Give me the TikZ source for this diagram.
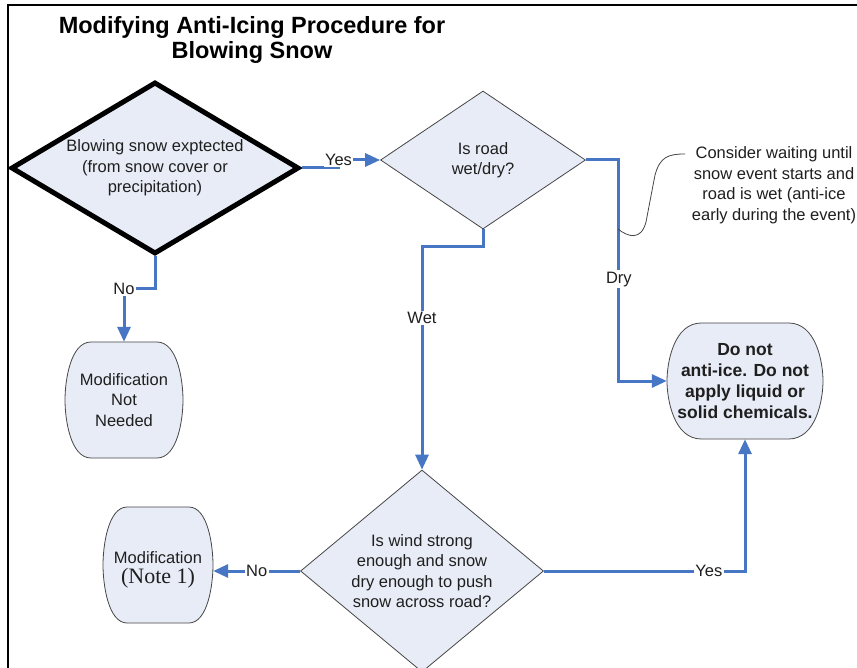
\documentclass[tikz,border=0pt]{standalone}
\usepackage{fontspec}
\setmainfont{Liberation Sans}
\newfontfamily\notefont{Liberation Serif}
\usetikzlibrary{shapes.geometric,arrows.meta,calc}
\definecolor{flowblue}{RGB}{70,118,196}
\definecolor{boxfill}{RGB}{232,236,246}
\definecolor{edgegray}{RGB}{70,70,70}
\newcommand\barrelbox[7][]{% opts, name, cx, cy, w, h, text
  \pgfmathsetmacro\bL{#3-#5/2}\pgfmathsetmacro\bR{#3+#5/2}%
  \pgfmathsetmacro\bT{#4-#6/2}\pgfmathsetmacro\bB{#4+#6/2}%
  \pgfmathsetmacro\bA{0.22*#5}\pgfmathsetmacro\bC{0.2*\bA}\pgfmathsetmacro\bV{0.34*#6}%
  \draw[boxline] (\bL+\bA,\bT) -- (\bR-\bA,\bT)
    .. controls (\bR-\bC,\bT) and (\bR,\bT+\bV) .. (\bR,#4)
    .. controls (\bR,\bB-\bV) and (\bR-\bC,\bB) .. (\bR-\bA,\bB)
    -- (\bL+\bA,\bB)
    .. controls (\bL+\bC,\bB) and (\bL,\bB-\bV) .. (\bL,#4)
    .. controls (\bL,\bT+\bV) and (\bL+\bC,\bT) .. cycle;
  \node[holder,minimum width=#5pt,minimum height=#6pt,#1] (#2) at (#3,#4) {#7};}
\begin{document}
\begin{tikzpicture}[x=1pt,y=-1pt,
  txt/.style={font=\fontsize{16.5}{20.5}\selectfont, align=center, text=black!88, inner sep=0pt},
  dia/.style={diamond, draw=edgegray, line width=0.8pt, fill=boxfill, inner sep=0pt},
  startdia/.style={diamond, draw=black, line width=5pt, fill=boxfill, inner sep=0pt},
  conn/.style={draw=flowblue, line width=3pt, -{Triangle[length=15pt,width=13pt]}},
  lbl/.style={txt, fill=white, inner sep=1.5pt},
  boxline/.style={draw=edgegray, line width=0.8pt, fill=boxfill},
  holder/.style={txt, draw=none}
]
\useasboundingbox (0,0) rectangle (857,668);
\fill[white] (0,0) rectangle (857,668);
% frame
\draw[line width=2pt] (7.5,668) -- (7.5,5) -- (857,5);
% title
\node[font=\fontsize{23.5}{25.5}\selectfont\bfseries, align=center, inner sep=0pt] (title) at (252,40)
  {Modifying Anti-Icing Procedure for\\Blowing Snow};
% diamonds
\node[startdia, minimum width=288pt, minimum height=172pt] (d1) at (155,168) {};
\node[txt] (d1t) at (155,168) {Blowing snow exptected\\(from snow cover or\\precipitation)};
\node[dia, minimum width=205pt, minimum height=138pt] (d2) at (483,160) {};
\node[txt] (d2t) at (483,160) {Is road\\wet/dry?};
\node[dia, minimum width=243pt, minimum height=202pt] (d3) at (422,571) {};
\node[txt] (d3t) at (422,571) {Is wind strong\\enough and snow\\dry enough to push\\snow across road?};
% terminal boxes
\barrelbox{m1}{124}{400}{118}{116}{Modification\\Not\\Needed}
\barrelbox[yshift=-5pt]{m2}{158}{565}{110}{116}{Modification\\{\notefont\fontsize{22}{22}\selectfont(Note 1)}}
\barrelbox[font=\fontsize{17.5}{21}\selectfont\bfseries]{dn}{745}{381}{156}{116}{Do not\\anti-ice. Do not\\apply liquid or\\solid chemicals.}
% connectors
\draw[conn] (d1.east) -- ++(37,0) |- node[lbl]{Yes} (d2.west);
\draw[conn] (d1.south) -- ++(0,32) -| node[lbl]{No} (m1.north);
\draw[conn] (d2.east) -- ++(33,0) |- node[lbl,pos=0.27]{Dry} (dn.west);
\draw[conn] (d2.south) -- ++(0,17) -| node[lbl,pos=0.66]{Wet} (d3.north);
\draw[conn] (d3.west) -- node[lbl]{No} (m2.east |- d3.west);
\draw[conn] (d3.east) -| node[lbl,pos=0.41]{Yes} (dn.south);
% callout
\node[txt] (note) at (774,185) {Consider waiting until\\snow event starts and\\road is wet (anti-ice\\early during the event)};
\coordinate (cs) at (618,229);
\coordinate (ce) at (685,154);
\draw[edgegray, line width=0.8pt] (cs) .. controls (628,237) and (641,241) .. (646,222)
  -- (655,175) .. controls (660,157) and (668,154) .. (ce);
\end{tikzpicture}
\end{document}
